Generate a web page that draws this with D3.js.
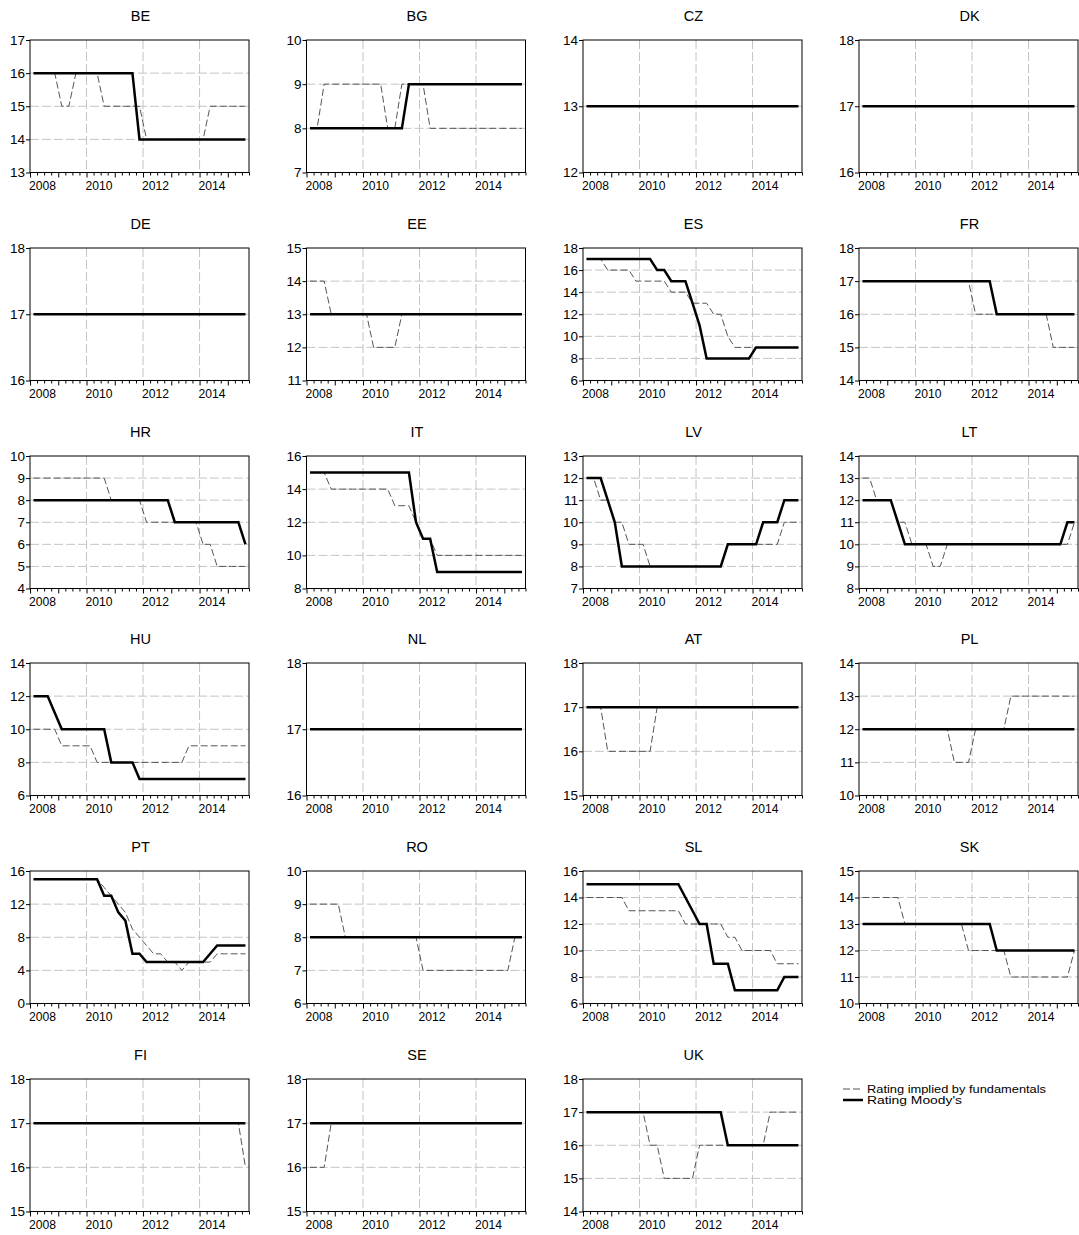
<!DOCTYPE html>
<html>
<head>
<meta charset="utf-8">
<script src="https://cdn.jsdelivr.net/npm/d3@7"></script>
<style>
  body { margin: 0; background: #fff; }
  svg { display: block; font-family: "Liberation Sans", Arial, sans-serif; }
</style>
</head>
<body>
<svg id="chart" width="1079" height="1235"></svg>
<script>
// quarterly observations 2008Q1 - 2015Q3
const quarters = [
  "2008Q1","2008Q2","2008Q3","2008Q4","2009Q1","2009Q2","2009Q3","2009Q4",
  "2010Q1","2010Q2","2010Q3","2010Q4","2011Q1","2011Q2","2011Q3","2011Q4",
  "2012Q1","2012Q2","2012Q3","2012Q4","2013Q1","2013Q2","2013Q3","2013Q4",
  "2014Q1","2014Q2","2014Q3","2014Q4","2015Q1","2015Q2","2015Q3"
];
const yearLabels = [2008, 2010, 2012, 2014];
const countries = ["BE","BG","CZ","DK","DE","EE","ES","FR","HR","IT","LV","LT",
  "HU","NL","AT","PL","PT","RO","SL","SK","FI","SE","UK"];

// y axis range and tick step per panel
const yRanges = {
  BE: [13, 17, 1], BG: [7, 10, 1], CZ: [12, 14, 1], DK: [16, 18, 1],
  DE: [16, 18, 1], EE: [11, 15, 1], ES: [6, 18, 2], FR: [14, 18, 1],
  HR: [4, 10, 1], IT: [8, 16, 2], LV: [7, 13, 1], LT: [8, 14, 1],
  HU: [6, 14, 2], NL: [16, 18, 1], AT: [15, 18, 1], PL: [10, 14, 1],
  PT: [0, 16, 4], RO: [6, 10, 1], SL: [6, 16, 2], SK: [10, 15, 1],
  FI: [15, 18, 1], SE: [15, 18, 1], UK: [14, 18, 1]
};

// Rating implied by fundamentals
const BE_fund = [16,16,16,16,15,15,16,16,16,16,15,15,15,15,15,15,14,14,14,14,14,14,14,14,14,15,15,15,15,15,15];
const BG_fund = [8,8,9,9,9,9,9,9,9,9,9,8,8,9,9,9,9,8,8,8,8,8,8,8,8,8,8,8,8,8,8];
const CZ_fund = [13,13,13,13,13,13,13,13,13,13,13,13,13,13,13,13,13,13,13,13,13,13,13,13,13,13,13,13,13,13,13];
const DK_fund = [17,17,17,17,17,17,17,17,17,17,17,17,17,17,17,17,17,17,17,17,17,17,17,17,17,17,17,17,17,17,17];
const DE_fund = [17,17,17,17,17,17,17,17,17,17,17,17,17,17,17,17,17,17,17,17,17,17,17,17,17,17,17,17,17,17,17];
const EE_fund = [14,14,14,13,13,13,13,13,13,12,12,12,12,13,13,13,13,13,13,13,13,13,13,13,13,13,13,13,13,13,13];
const ES_fund = [17,17,17,16,16,16,16,15,15,15,15,15,14,14,14,13,13,13,12,12,10,9,9,9,9,9,9,9,9,9,9];
const FR_fund = [17,17,17,17,17,17,17,17,17,17,17,17,17,17,17,17,16,16,16,16,16,16,16,16,16,16,16,15,15,15,15];
const HR_fund = [9,9,9,9,9,9,9,9,9,9,9,8,8,8,8,8,7,7,7,7,7,7,7,7,6,6,5,5,5,5,5];
const IT_fund = [15,15,15,14,14,14,14,14,14,14,14,14,13,13,13,12,11,11,10,10,10,10,10,10,10,10,10,10,10,10,10];
const LV_fund = [12,12,11,11,10,10,9,9,9,8,8,8,8,8,8,8,8,8,8,8,9,9,9,9,9,9,9,9,10,10,10];
const LT_fund = [13,13,12,12,12,11,11,10,10,10,9,9,10,10,10,10,10,10,10,10,10,10,10,10,10,10,10,10,10,10,11];
const HU_fund = [10,10,10,10,9,9,9,9,9,8,8,8,8,8,8,8,8,8,8,8,8,8,9,9,9,9,9,9,9,9,9];
const NL_fund = [17,17,17,17,17,17,17,17,17,17,17,17,17,17,17,17,17,17,17,17,17,17,17,17,17,17,17,17,17,17,17];
const AT_fund = [17,17,17,16,16,16,16,16,16,16,17,17,17,17,17,17,17,17,17,17,17,17,17,17,17,17,17,17,17,17,17];
const PL_fund = [12,12,12,12,12,12,12,12,12,12,12,12,12,11,11,11,12,12,12,12,12,13,13,13,13,13,13,13,13,13,13];
const PT_fund = [15,15,15,15,15,15,15,15,15,15,14,13,12,11,9,8,7,6,6,5,5,4,5,5,5,5,6,6,6,6,6];
const RO_fund = [9,9,9,9,9,8,8,8,8,8,8,8,8,8,8,8,7,7,7,7,7,7,7,7,7,7,7,7,7,8,8];
const SL_fund = [14,14,14,14,14,14,13,13,13,13,13,13,13,13,12,12,12,12,12,12,11,11,10,10,10,10,10,9,9,9,9];
const SK_fund = [14,14,14,14,14,14,13,13,13,13,13,13,13,13,13,12,12,12,12,12,12,11,11,11,11,11,11,11,11,11,12];
const FI_fund = [17,17,17,17,17,17,17,17,17,17,17,17,17,17,17,17,17,17,17,17,17,17,17,17,17,17,17,17,17,17,16];
const SE_fund = [16,16,16,17,17,17,17,17,17,17,17,17,17,17,17,17,17,17,17,17,17,17,17,17,17,17,17,17,17,17,17];
const UK_fund = [17,17,17,17,17,17,17,17,17,16,16,15,15,15,15,15,16,16,16,16,16,16,16,16,16,16,17,17,17,17,17];

// Rating Moody's
const BE_moody = [16,16,16,16,16,16,16,16,16,16,16,16,16,16,16,14,14,14,14,14,14,14,14,14,14,14,14,14,14,14,14];
const BG_moody = [8,8,8,8,8,8,8,8,8,8,8,8,8,8,9,9,9,9,9,9,9,9,9,9,9,9,9,9,9,9,9];
const CZ_moody = [13,13,13,13,13,13,13,13,13,13,13,13,13,13,13,13,13,13,13,13,13,13,13,13,13,13,13,13,13,13,13];
const DK_moody = [17,17,17,17,17,17,17,17,17,17,17,17,17,17,17,17,17,17,17,17,17,17,17,17,17,17,17,17,17,17,17];
const DE_moody = [17,17,17,17,17,17,17,17,17,17,17,17,17,17,17,17,17,17,17,17,17,17,17,17,17,17,17,17,17,17,17];
const EE_moody = [13,13,13,13,13,13,13,13,13,13,13,13,13,13,13,13,13,13,13,13,13,13,13,13,13,13,13,13,13,13,13];
const ES_moody = [17,17,17,17,17,17,17,17,17,17,16,16,15,15,15,13,11,8,8,8,8,8,8,8,9,9,9,9,9,9,9];
const FR_moody = [17,17,17,17,17,17,17,17,17,17,17,17,17,17,17,17,17,17,17,16,16,16,16,16,16,16,16,16,16,16,16];
const HR_moody = [8,8,8,8,8,8,8,8,8,8,8,8,8,8,8,8,8,8,8,8,7,7,7,7,7,7,7,7,7,7,6];
const IT_moody = [15,15,15,15,15,15,15,15,15,15,15,15,15,15,15,12,11,11,9,9,9,9,9,9,9,9,9,9,9,9,9];
const LV_moody = [12,12,12,11,10,8,8,8,8,8,8,8,8,8,8,8,8,8,8,8,9,9,9,9,9,10,10,10,11,11,11];
const LT_moody = [12,12,12,12,12,11,10,10,10,10,10,10,10,10,10,10,10,10,10,10,10,10,10,10,10,10,10,10,10,11,11];
const HU_moody = [12,12,12,11,10,10,10,10,10,10,10,8,8,8,8,7,7,7,7,7,7,7,7,7,7,7,7,7,7,7,7];
const NL_moody = [17,17,17,17,17,17,17,17,17,17,17,17,17,17,17,17,17,17,17,17,17,17,17,17,17,17,17,17,17,17,17];
const AT_moody = [17,17,17,17,17,17,17,17,17,17,17,17,17,17,17,17,17,17,17,17,17,17,17,17,17,17,17,17,17,17,17];
const PL_moody = [12,12,12,12,12,12,12,12,12,12,12,12,12,12,12,12,12,12,12,12,12,12,12,12,12,12,12,12,12,12,12];
const PT_moody = [15,15,15,15,15,15,15,15,15,15,13,13,11,10,6,6,5,5,5,5,5,5,5,5,5,6,7,7,7,7,7];
const RO_moody = [8,8,8,8,8,8,8,8,8,8,8,8,8,8,8,8,8,8,8,8,8,8,8,8,8,8,8,8,8,8,8];
const SL_moody = [15,15,15,15,15,15,15,15,15,15,15,15,15,15,14,13,12,12,9,9,9,7,7,7,7,7,7,7,8,8,8];
const SK_moody = [13,13,13,13,13,13,13,13,13,13,13,13,13,13,13,13,13,13,13,12,12,12,12,12,12,12,12,12,12,12,12];
const FI_moody = [17,17,17,17,17,17,17,17,17,17,17,17,17,17,17,17,17,17,17,17,17,17,17,17,17,17,17,17,17,17,17];
const SE_moody = [17,17,17,17,17,17,17,17,17,17,17,17,17,17,17,17,17,17,17,17,17,17,17,17,17,17,17,17,17,17,17];
const UK_moody = [17,17,17,17,17,17,17,17,17,17,17,17,17,17,17,17,17,17,17,17,16,16,16,16,16,16,16,16,16,16,16];

const fundamentals = { BE: BE_fund, BG: BG_fund, CZ: CZ_fund, DK: DK_fund, DE: DE_fund, EE: EE_fund,
  ES: ES_fund, FR: FR_fund, HR: HR_fund, IT: IT_fund, LV: LV_fund, LT: LT_fund, HU: HU_fund,
  NL: NL_fund, AT: AT_fund, PL: PL_fund, PT: PT_fund, RO: RO_fund, SL: SL_fund, SK: SK_fund,
  FI: FI_fund, SE: SE_fund, UK: UK_fund };
const moodys = { BE: BE_moody, BG: BG_moody, CZ: CZ_moody, DK: DK_moody, DE: DE_moody, EE: EE_moody,
  ES: ES_moody, FR: FR_moody, HR: HR_moody, IT: IT_moody, LV: LV_moody, LT: LT_moody, HU: HU_moody,
  NL: NL_moody, AT: AT_moody, PL: PL_moody, PT: PT_moody, RO: RO_moody, SL: SL_moody, SK: SK_moody,
  FI: FI_moody, SE: SE_moody, UK: UK_moody };

const svg = d3.select("#chart");
const panelW = 219, panelH = 132.5;
const colX = [30, 306.5, 583, 859];
const rowY = [40, 248, 456, 663, 871, 1079];

// quarter string -> decimal year at middle of the quarter
const qPos = (q) => +q.slice(0, 4) + (+q.slice(5) - 1) / 4 + 0.125;
const quarterTicks = d3.range(0, 32).map((i) => 2008 + i / 4);

countries.forEach((c, k) => {
  const col = k % 4, row = Math.floor(k / 4);
  const g = svg.append("g").attr("transform", `translate(${colX[col]},${rowY[row]})`);
  const [y0, y1, step] = yRanges[c];

  const x = d3.scaleLinear().domain([2008, 2015.75]).range([0, panelW]);
  const y = d3.scaleLinear().domain([y0, y1]).range([panelH, 0]);
  const yTicks = d3.range(y0, y1 + 0.001, step);

  // grid
  g.append("g").selectAll("line").data(yTicks.slice(1, -1)).join("line")
    .attr("x1", 0).attr("x2", panelW)
    .attr("y1", (d) => y(d)).attr("y2", (d) => y(d))
    .attr("stroke", "#c4c4c4").attr("stroke-width", 1).attr("stroke-dasharray", "9,3");
  g.append("g").selectAll("line").data([2010, 2012, 2014]).join("line")
    .attr("x1", (d) => x(d)).attr("x2", (d) => x(d))
    .attr("y1", 0).attr("y2", panelH)
    .attr("stroke", "#c4c4c4").attr("stroke-width", 1).attr("stroke-dasharray", "9,3");

  // series
  const line = d3.line().x((d, i) => x(qPos(quarters[i]))).y((d) => y(d));
  g.append("path").datum(fundamentals[c]).attr("d", line)
    .attr("fill", "none").attr("stroke", "#555").attr("stroke-width", 1)
    .attr("stroke-dasharray", "7,3");
  g.append("path").datum(moodys[c]).attr("d", line)
    .attr("fill", "none").attr("stroke", "#000").attr("stroke-width", 2.5)
    .attr("stroke-linejoin", "miter");

  // frame
  g.append("rect").attr("width", panelW).attr("height", panelH)
    .attr("fill", "none").attr("stroke", "#000").attr("stroke-width", 1);

  // y axis
  const ya = g.append("g").call(d3.axisLeft(y).tickValues(yTicks).tickSize(4).tickPadding(1)
    .tickFormat(d3.format("d")));
  ya.select(".domain").remove();
  ya.selectAll("text").attr("font-size", 13.5).attr("font-family", "Liberation Sans, Arial, sans-serif").attr("fill", "#000");

  // x axis
  const xa = g.append("g").attr("transform", `translate(0,${panelH})`)
    .call(d3.axisBottom(x).tickValues(quarterTicks).tickSize(3).tickFormat(""));
  xa.select(".domain").remove();
  xa.selectAll(".tick line").attr("y2", (d) => (Number.isInteger(d) ? 5 : 3));
  g.append("g").selectAll("text").data(yearLabels).join("text")
    .attr("x", (d) => x(d) - 1).attr("y", panelH + 17)
    .attr("font-size", 13).attr("text-anchor", "start")
    .attr("textLength", 27).attr("lengthAdjust", "spacingAndGlyphs")
    .text((d) => d);

  // title
  g.append("text").attr("x", panelW / 2 + 1).attr("y", -19.5)
    .attr("text-anchor", "middle").attr("font-size", 14.5).text(c);
});

// legend
const lg = svg.append("g").attr("transform", "translate(843,1089)");
lg.append("line").attr("x1", 0).attr("x2", 19).attr("y1", 0).attr("y2", 0)
  .attr("stroke", "#555").attr("stroke-width", 1).attr("stroke-dasharray", "7,3");
lg.append("line").attr("x1", 0).attr("x2", 20).attr("y1", 11).attr("y2", 11)
  .attr("stroke", "#000").attr("stroke-width", 2.5);
lg.append("text").attr("x", 24).attr("y", 4).attr("font-size", 11)
  .attr("textLength", 179).attr("lengthAdjust", "spacingAndGlyphs")
  .text("Rating implied by fundamentals");
lg.append("text").attr("x", 24).attr("y", 15).attr("font-size", 11)
  .attr("textLength", 95).attr("lengthAdjust", "spacingAndGlyphs")
  .text("Rating Moody's");
</script>
</body>
</html>
